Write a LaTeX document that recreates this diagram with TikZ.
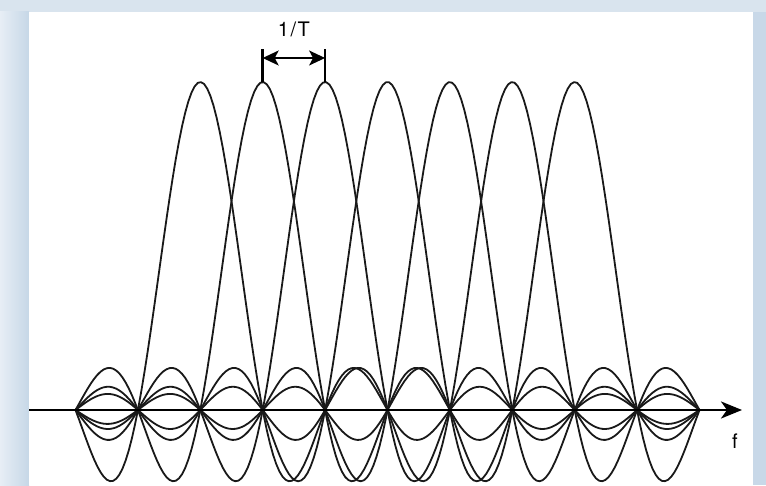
\documentclass[tikz,border=0pt]{standalone}
\usepackage{fontspec}
\setmainfont{TeX Gyre Heros}
\newfontfamily\lblfont[LetterSpace=8]{TeX Gyre Heros}
\usepackage{tikz}
\usetikzlibrary{arrows.meta,
calc}

\definecolor{frameblue}{HTML}{D9E4EE}
\definecolor{framelight}{HTML}{E7EEF5}
\definecolor{framedark}{HTML}{C6D7E7}

\begin{document}
\begin{tikzpicture}[
x=1pt, y=1pt,
>=Stealth,
subcarrier/.style={
line width=1.8pt,
black!90,
line join=round
},
faxis/.style={
line width=2.8pt,
-{Stealth[length=21pt,width=17pt,inset=6pt]}
},
bar/.style={
line width=2.6pt
},
spacing/.style={
line width=1.6pt,
{Stealth[length=16pt,width=15pt,inset=4pt]}-{Stealth[length=16pt,width=15pt,inset=4pt]}
},
lbl/.style={
font=\lblfont\fontsize{20}{24}\selectfont,
inner sep=0pt
}
]

\def\xzero{75.5}
\def\dx{62.4}
\def\yax{75}
\def\amp{328}

% Frame
\useasboundingbox (0,0) rectangle (766,485);
\fill[frameblue] (0,0) rectangle (766,485);
\shade[left color=framelight, right color=framedark] (0,0) rectangle (29,473);
\fill[framedark!90!frameblue] (753,0) rectangle (766,473);
\fill[white] (29,0) rectangle (753,473);

% Subcarriers
\foreach \k in {2,...,8}{
\draw[subcarrier] plot[domain=0:10, samples=200, variable=\t]
({\xzero+\dx*\t}, {\yax+\amp*sin(180*(\t-\k))/(pi*(\t-\k))});
}

% Frequency axis
\coordinate (axL) at (29,\yax);
\coordinate (axR) at (742,\yax);
\draw[faxis] (axL) -- (axR);
\node[lbl] (freq) at (735,44) {f};

% Spacing 1/T
\coordinate (p3) at (\xzero+3*\dx,\yax+\amp);
\coordinate (p4) at (\xzero+4*\dx,\yax+\amp);
\coordinate (top3) at ($(p3)+(0,33)$);
\coordinate (top4) at ($(p4)+(0,33)$);
\draw[bar] (p3) -- (top3);
\draw[bar] (p4) -- (top4);
\coordinate (a3) at ($(p3)+(0,24)$);
\coordinate (a4) at ($(p4)+(0,24)$);
\draw[spacing] (a3) -- (a4);
\node[lbl] (period) at ($(p3)!0.5!(p4)+(0,53)$) {1/T};

\end{tikzpicture}
\end{document}
